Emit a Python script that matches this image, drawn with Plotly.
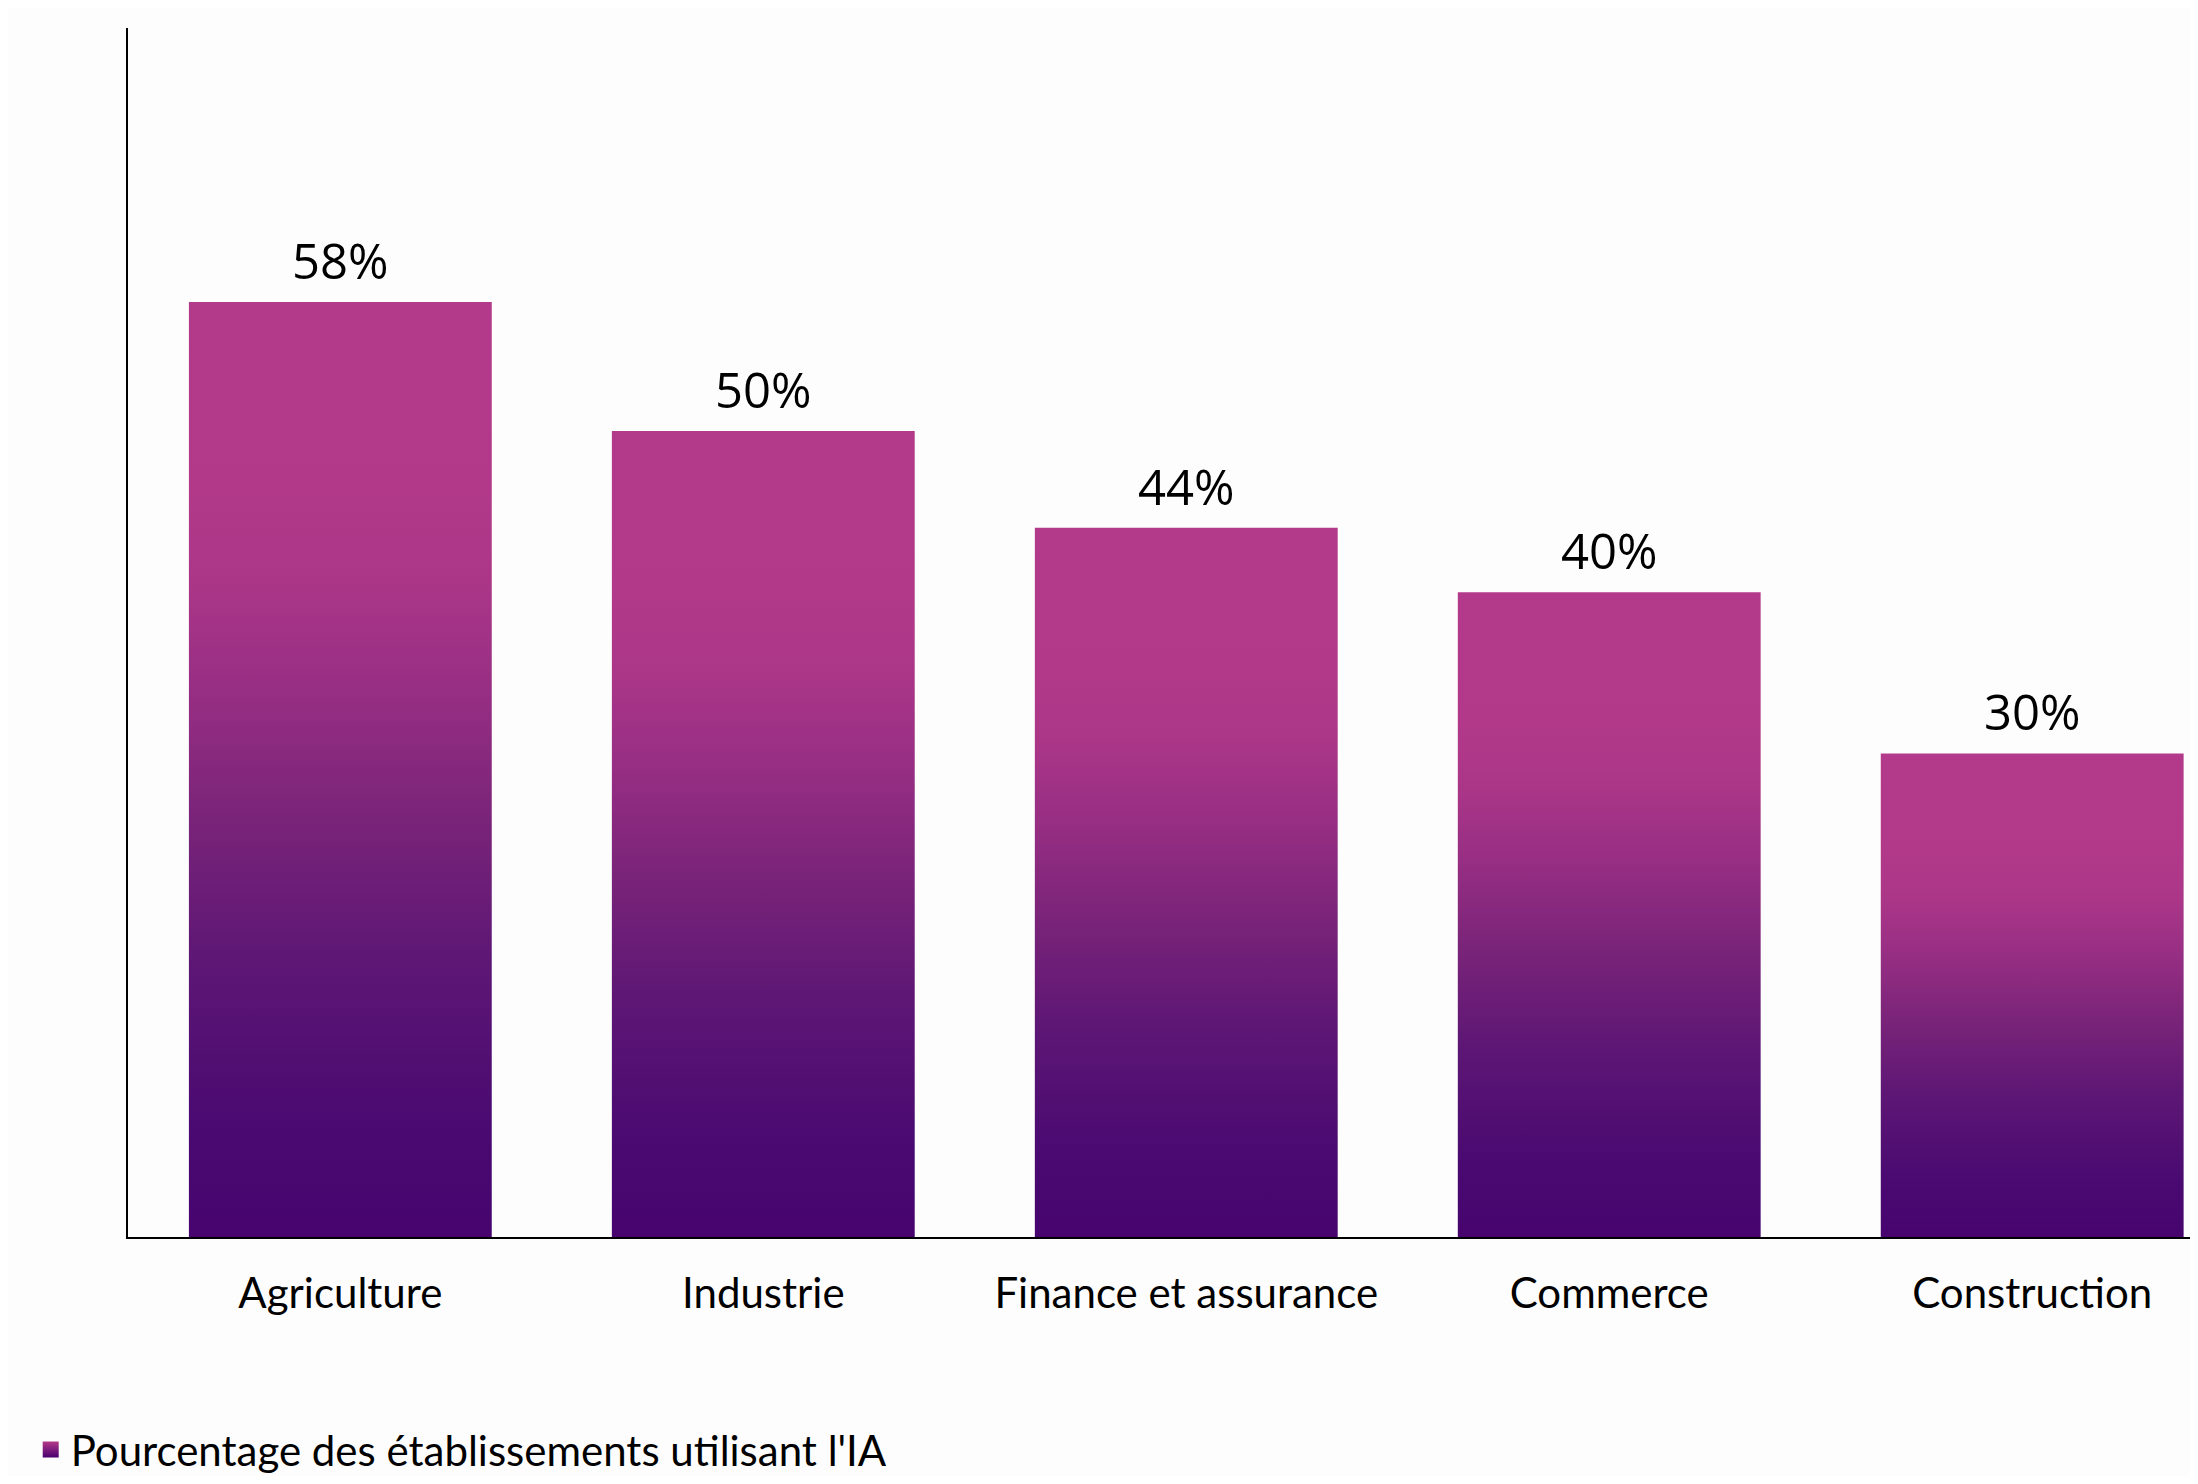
import plotly.graph_objects as go

categories = ['Agriculture', 'Industrie', 'Finance et assurance', 'Commerce', 'Construction']
values = [58, 50, 44, 40, 30]
value_labels = ['58%', '50%', '44%', '40%', '30%']
series_name = "Pourcentage des établissements utilisant l'IA"

TOP_COLOR = '#b3398a'
BOTTOM_COLOR = '#48006e'
# bottom -> top of each bar
GRADIENT = [
    [0.0, '#47046f'],
    [0.12, '#4a0a71'],
    [0.3, '#5e1775'],
    [0.45, '#7a2479'],
    [0.58, '#962e83'],
    [0.7, '#ab3688'],
    [0.8, '#b2398a'],
    [1.0, TOP_COLOR],
]
HALF_WIDTH = 0.358
LABEL_FONT = 'Lato'


def barShape(i, v):
    xs = [i - HALF_WIDTH, i + HALF_WIDTH, i + HALF_WIDTH, i - HALF_WIDTH, i - HALF_WIDTH]
    ys = [0, 0, v, v, 0]
    return xs, ys


fig = go.Figure()
for i, v in enumerate(values):
    xs, ys = barShape(i, v)
    fig.add_trace(go.Scatter(
        x=xs, y=ys, mode='none', fill='toself',
        fillgradient=dict(type='vertical', colorscale=GRADIENT),
        showlegend=False, hoverinfo='skip'))

# legend entry only
fig.add_trace(go.Scatter(
    x=[None], y=[None], mode='markers', name=series_name,
    marker=dict(symbol='square', size=16, color=TOP_COLOR,
                gradient=dict(type='vertical', color=BOTTOM_COLOR))))

for i, (v, txt) in enumerate(zip(values, value_labels)):
    fig.add_annotation(x=i, y=v, text=txt, showarrow=False, yanchor='bottom',
                       yshift=7, font=dict(family='Open Sans', size=49, color='black'))

fig.update_xaxes(range=[-0.502, 4.392], tickvals=list(range(len(categories))), ticktext=categories,
                 showgrid=False, zeroline=False, showline=True, linecolor='black', linewidth=2,
                 ticks='', ticklabelstandoff=19,
                 tickfont=dict(family=LABEL_FONT, size=42, color='black'))
fig.update_yaxes(range=[0, 75], showgrid=False, zeroline=False, showline=True, linecolor='black',
                 linewidth=2, showticklabels=False, ticks='')
# page body adds an 8px margin, so the figure is a bit smaller than the window
fig.update_layout(
    width=2190, height=1468,
    margin=dict(l=120, r=0, t=20, b=239, autoexpand=False),
    paper_bgcolor='#fdfdfd', plot_bgcolor='#fdfdfd',
    showlegend=True,
    legend=dict(x=-0.047, xanchor='left', y=-0.176, yanchor='middle',
                font=dict(family=LABEL_FONT, size=42, color='black'),
                bgcolor='rgba(0,0,0,0)'),
)
fig.write_html("out.html")
